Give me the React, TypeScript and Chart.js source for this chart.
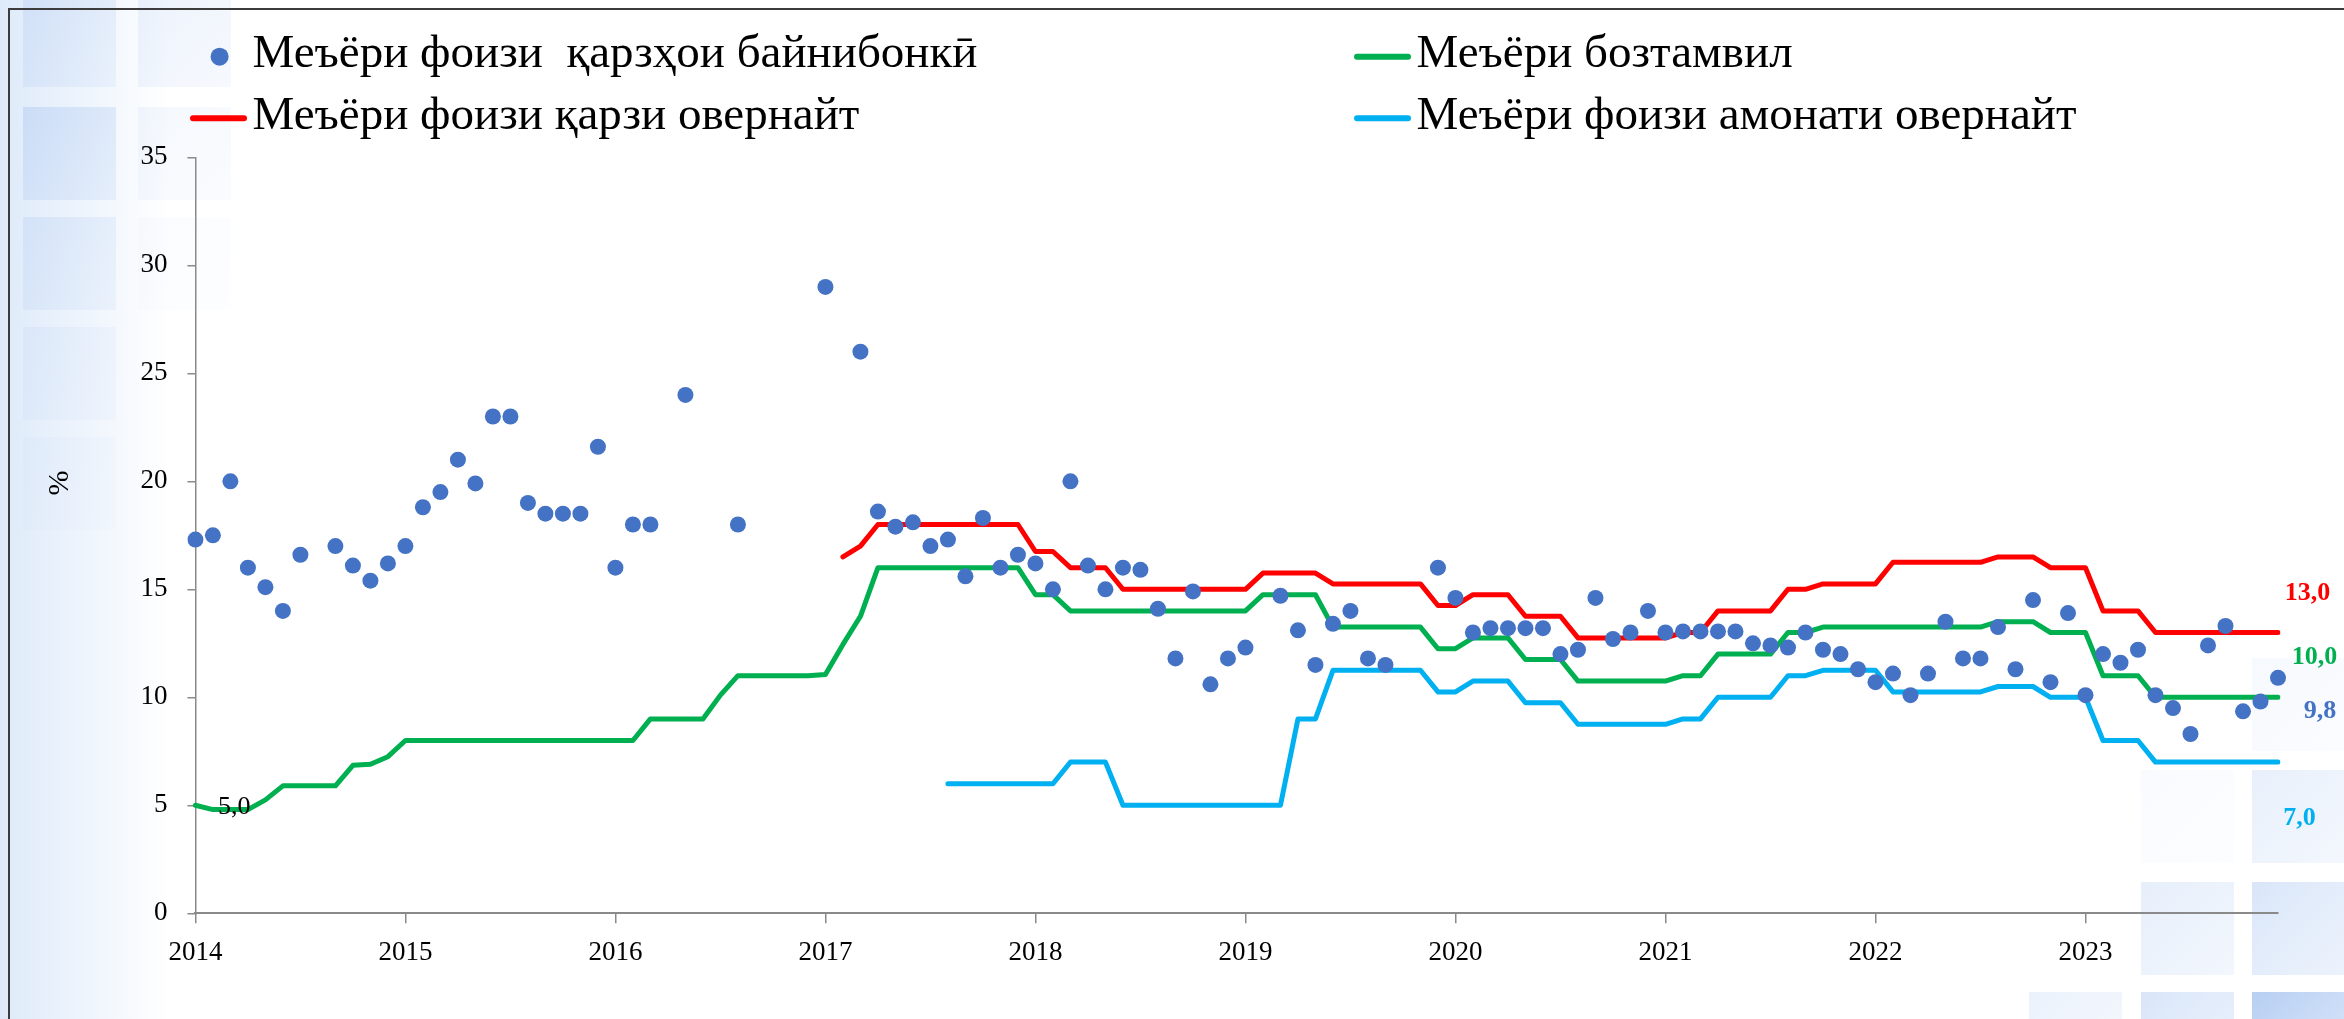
import React, { useEffect, useRef } from 'react';
import { Chart, registerables } from 'chart.js';

Chart.register(...registerables);

// ---------- data ----------
const YEARS = ['2014', '2015', '2016', '2017', '2018', '2019', '2020', '2021', '2022', '2023'];
const MONTH_NUMS = ['01', '02', '03', '04', '05', '06', '07', '08', '09', '10', '11', '12'];
const MONTHS = YEARS.flatMap((y) => MONTH_NUMS.map((m) => `${y}-${m}`));

const Y_MIN = 0;
const Y_MAX = 35;
const Y_STEP = 5;

const LEGEND_LABELS = [
  'Меъёри фоизи  қарзҳои байнибонкӣ',
  'Меъёри бозтамвил',
  'Меъёри фоизи қарзи овернайт',
  'Меъёри фоизи амонати овернайт',
];

// Interbank loan rate (dots), one row per year
const INTERBANK: (number | null)[] = [
  17.3, 17.5, 20.0, 16.0, 15.1, 14.0, 16.6, null, 17.0, 16.1, 15.4, 16.2,
  17.0, 18.8, 19.5, 21.0, 19.9, 23.0, 23.0, 19.0, 18.5, 18.5, 18.5, 21.6,
  16.0, 18.0, 18.0, null, 24.0, null, null, 18.0, null, null, null, null,
  29.0, null, 26.0, 18.6, 17.9, 18.1, 17.0, 17.3, 15.6, 18.3, 16.0, 16.6,
  16.2, 15.0, 20.0, 16.1, 15.0, 16.0, 15.9, 14.1, 11.8, 14.9, 10.6, 11.8,
  12.3, null, 14.7, 13.1, 11.5, 13.4, 14.0, 11.8, 11.5, null, null, 16.0,
  14.6, 13.0, 13.2, 13.2, 13.2, 13.2, 12.0, 12.2, 14.6, 12.7, 13.0, 14.0,
  13.0, 13.05, 13.05, 13.05, 13.05, 12.5, 12.4, 12.3, 13.0, 12.2, 12.0, 11.3,
  10.7, 11.1, 10.1, 11.1, 13.5, 11.8, 11.8, 13.25, 11.3, 14.5, 10.7, 13.9,
  10.1, 12.0, 11.6, 12.2, 10.1, 9.5, 8.3, 12.4, 13.3, 9.35, 9.8, 10.9,
];

// Refinancing rate (green)
const REFINANCING: (number | null)[] = [
  5.0, 4.8, 4.8, 4.8, 5.25, 5.9, 5.9, 5.9, 5.9, 6.85, 6.9, 7.25,
  8, 8, 8, 8, 8, 8, 8, 8, 8, 8, 8, 8,
  8, 8, 9, 9, 9, 9, 10.1, 11, 11, 11, 11, 11,
  11.05, 12.45, 13.75, 16, 16, 16, 16, 16, 16, 16, 16, 16,
  14.75, 14.75, 14, 14, 14, 14, 14, 14, 14, 14, 14, 14,
  14, 14.75, 14.75, 14.75, 14.75, 13.25, 13.25, 13.25, 13.25, 13.25, 13.25, 12.25,
  12.25, 12.75, 12.75, 12.75, 11.75, 11.75, 11.75, 10.75, 10.75, 10.75, 10.75, 10.75,
  10.75, 11, 11, 12, 12, 12, 12, 13, 13, 13.25, 13.25, 13.25,
  13.25, 13.25, 13.25, 13.25, 13.25, 13.25, 13.25, 13.5, 13.5, 13.5, 13, 13,
  13, 11, 11, 11, 10, 10, 10, 10, 10, 10, 10, 10,
];

// Overnight loan rate (red)
const OVERNIGHT_LOAN: (number | null)[] = [
  null, null, null, null, null, null, null, null, null, null, null, null,
  null, null, null, null, null, null, null, null, null, null, null, null,
  null, null, null, null, null, null, null, null, null, null, null, null,
  null, 16.5, 17.0, 18, 18, 18, 18, 18, 18, 18, 18, 18,
  16.75, 16.75, 16, 16, 16, 15, 15, 15, 15, 15, 15, 15,
  15, 15.75, 15.75, 15.75, 15.75, 15.25, 15.25, 15.25, 15.25, 15.25, 15.25, 14.25,
  14.25, 14.75, 14.75, 14.75, 13.75, 13.75, 13.75, 12.75, 12.75, 12.75, 12.75, 12.75,
  12.75, 13, 13, 14, 14, 14, 14, 15, 15, 15.25, 15.25, 15.25,
  15.25, 16.25, 16.25, 16.25, 16.25, 16.25, 16.25, 16.5, 16.5, 16.5, 16, 16,
  16, 14, 14, 14, 13, 13, 13, 13, 13, 13, 13, 13,
];

// Overnight deposit rate (cyan)
const OVERNIGHT_DEPOSIT: (number | null)[] = [
  null, null, null, null, null, null, null, null, null, null, null, null,
  null, null, null, null, null, null, null, null, null, null, null, null,
  null, null, null, null, null, null, null, null, null, null, null, null,
  null, null, null, null, null, null, null, 6, 6, 6, 6, 6,
  6, 6, 7, 7, 7, 5, 5, 5, 5, 5, 5, 5,
  5, 5, 5, 9, 9, 11.25, 11.25, 11.25, 11.25, 11.25, 11.25, 10.25,
  10.25, 10.75, 10.75, 10.75, 9.75, 9.75, 9.75, 8.75, 8.75, 8.75, 8.75, 8.75,
  8.75, 9, 9, 10, 10, 10, 10, 11, 11, 11.25, 11.25, 11.25,
  11.25, 10.25, 10.25, 10.25, 10.25, 10.25, 10.25, 10.5, 10.5, 10.5, 10, 10,
  10, 8, 8, 8, 7, 7, 7, 7, 7, 7, 7, 7,
];

// ---------- styles ----------
const FONT = "'Liberation Serif', 'Times New Roman', serif";
const BLUE = '#4472C4';
const GREEN = '#00B050';
const RED = '#FF0000';
const CYAN = '#00B0F0';
const AXIS = '#8a8a8a';

const W = 2344;
const H = 1019;
const PLOT_LEFT = 195.4;
const PLOT_RIGHT = 2278;
const PLOT_TOP = 157.3;
const PLOT_BOTTOM = 913.3;

// decorative background tiles: [x, y, alpha]
const TILES: [number, number, number][] = [
  [23, -6, 0.3], [23, 107, 0.4], [23, 217, 0.26], [23, 327, 0.14], [23, 437, 0.07],
  [138, -6, 0.2], [138, 107, 0.12], [138, 217, 0.05],
  [2252, 658, 0.1], [2141, 770, 0.07], [2252, 770, 0.26],
  [2141, 882, 0.28], [2252, 882, 0.42],
  [2029, 992, 0.22], [2141, 992, 0.42], [2252, 992, 0.8],
];
const TILE_SIZE = 93;

const fmt = (v: number) => v.toFixed(1).replace('.', ',');

const decorPlugin = {
  id: 'decor',
  beforeDraw(chart: any) {
    const { ctx } = chart;
    ctx.save();
    ctx.fillStyle = '#ffffff';
    ctx.fillRect(0, 0, W, H);
    const g = ctx.createLinearGradient(0, 0, 170, 0);
    g.addColorStop(0, 'rgba(200,220,246,0.6)');
    g.addColorStop(1, 'rgba(200,220,246,0)');
    ctx.fillStyle = g;
    ctx.fillRect(0, 0, 170, H);
    for (const [x, y, a] of TILES) {
      const tg = ctx.createLinearGradient(x, y, x + TILE_SIZE, y + TILE_SIZE);
      tg.addColorStop(0, `rgba(165,195,240,${a})`);
      tg.addColorStop(1, `rgba(190,212,245,${a * 0.7})`);
      ctx.fillStyle = tg;
      ctx.fillRect(x, y, TILE_SIZE, TILE_SIZE);
    }
    ctx.restore();
  },
  afterDraw(chart: any) {
    const { ctx, chartArea } = chart;
    const xs = chart.scales.x;
    const ys = chart.scales.y;
    const ds = chart.data.datasets;
    ctx.save();

    // frame
    ctx.strokeStyle = '#3c3c3c';
    ctx.lineWidth = 2;
    ctx.beginPath();
    ctx.moveTo(8, 9);
    ctx.lineTo(W, 9);
    ctx.moveTo(9, 8);
    ctx.lineTo(9, H);
    ctx.stroke();

    // legend
    ctx.font = `47px ${FONT}`;
    ctx.textBaseline = 'middle';
    ctx.textAlign = 'left';
    ctx.fillStyle = '#000';
    const rows = [56.7, 118.3];
    const cols = [191, 1355];
    const items = [
      { ds: 0, col: 0, row: 0 },
      { ds: 1, col: 1, row: 0 },
      { ds: 2, col: 0, row: 1 },
      { ds: 3, col: 1, row: 1 },
    ];
    for (const it of items) {
      const d = ds[it.ds];
      const mx = cols[it.col];
      const my = rows[it.row];
      if (it.ds === 0) {
        ctx.fillStyle = d.pointBackgroundColor;
        ctx.beginPath();
        ctx.arc(mx + 28.6, my, 9, 0, Math.PI * 2);
        ctx.fill();
      } else {
        ctx.strokeStyle = d.borderColor;
        ctx.lineWidth = 6;
        ctx.lineCap = 'round';
        ctx.beginPath();
        ctx.moveTo(mx + 2, my);
        ctx.lineTo(mx + 53, my);
        ctx.stroke();
      }
      ctx.fillStyle = '#000';
      ctx.fillText(d.label, mx + 61.5, my - 2);
    }

    // first-point label of refinancing rate
    ctx.font = `26px ${FONT}`;
    ctx.fillStyle = '#000';
    const v0 = REFINANCING[0] as number;
    ctx.fillText(fmt(v0), xs.getPixelForValue(0) + 22.5, ys.getPixelForValue(v0) + 2);

    // end labels
    ctx.font = `bold 26px ${FONT}`;
    const last = MONTHS.length - 1;
    const ends = [
      { v: OVERNIGHT_LOAN[last] as number, color: RED, dx: 6.7, dy: -39 },
      { v: REFINANCING[last] as number, color: GREEN, dx: 13.8, dy: -40 },
      { v: INTERBANK[last - 1] as number, color: BLUE, dx: 25.7, dy: 9.5 },
      { v: OVERNIGHT_DEPOSIT[last] as number, color: CYAN, dx: 5.3, dy: 56 },
    ];
    for (const e of ends) {
      ctx.fillStyle = e.color;
      ctx.fillText(fmt(e.v), chartArea.right + e.dx, ys.getPixelForValue(e.v) + e.dy);
    }

    // y-axis unit
    ctx.save();
    ctx.translate(60, 483);
    ctx.rotate(-Math.PI / 2);
    ctx.font = `30px ${FONT}`;
    ctx.textAlign = 'center';
    ctx.fillStyle = '#000';
    ctx.fillText('%', 0, 0);
    ctx.restore();

    ctx.restore();
  },
};

export default function App() {
  const canvasRef = useRef<HTMLCanvasElement | null>(null);

  useEffect(() => {
    const canvas = canvasRef.current;
    if (!canvas) return;
    const lineCommon = {
      pointRadius: 0,
      pointHoverRadius: 0,
      borderWidth: 5,
      tension: 0,
      spanGaps: false,
      borderCapStyle: 'round',
      borderJoinStyle: 'round',
      fill: false,
    };
    const chart = new Chart(canvas, {
      type: 'line',
      data: {
        labels: MONTHS,
        datasets: [
          {
            label: LEGEND_LABELS[0],
            data: INTERBANK,
            showLine: false,
            pointRadius: 8,
            pointHoverRadius: 8,
            pointBorderWidth: 0,
            pointBackgroundColor: BLUE,
            borderColor: BLUE,
            backgroundColor: BLUE,
          },
          { label: LEGEND_LABELS[1], data: REFINANCING, borderColor: GREEN, backgroundColor: GREEN, ...lineCommon },
          { label: LEGEND_LABELS[2], data: OVERNIGHT_LOAN, borderColor: RED, backgroundColor: RED, ...lineCommon },
          { label: LEGEND_LABELS[3], data: OVERNIGHT_DEPOSIT, borderColor: CYAN, backgroundColor: CYAN, ...lineCommon },
        ],
      } as any,
      options: {
        responsive: false,
        animation: false,
        events: [],
        layout: { padding: { left: 0, top: PLOT_TOP, right: W - PLOT_RIGHT, bottom: 0 } },
        plugins: { legend: { display: false }, tooltip: { enabled: false }, title: { display: false } },
        scales: {
          x: {
            type: 'category',
            offset: false,
            grid: { display: true, drawOnChartArea: false, drawTicks: true, tickLength: 10, color: AXIS, lineWidth: 1.5 },
            border: { display: true, color: AXIS, width: 2 },
            ticks: {
              autoSkip: false,
              maxRotation: 0,
              minRotation: 0,
              padding: 13,
              color: '#000',
              font: { family: FONT, size: 27 },
              callback: (value: any) => MONTHS[value as number].slice(0, 4),
            },
            afterBuildTicks: (axis: any) => {
              axis.ticks = axis.ticks.filter((t: any) => t.value % 12 === 0);
            },
            afterFit: (axis: any) => {
              axis.height = H - PLOT_BOTTOM;
            },
          },
          y: {
            min: Y_MIN,
            max: Y_MAX,
            ticks: { stepSize: Y_STEP, padding: 20, color: '#000', font: { family: FONT, size: 27 } },
            grid: { display: true, drawOnChartArea: false, drawTicks: true, tickLength: 8, color: AXIS, lineWidth: 1.5 },
            border: { display: true, color: AXIS, width: 1.5 },
            afterFit: (axis: any) => {
              axis.width = PLOT_LEFT;
            },
          },
        },
      } as any,
      plugins: [decorPlugin],
    });
    return () => chart.destroy();
  }, []);

  return (
    <div style={{ position: 'absolute', left: 0, top: 0, width: W, height: H, overflow: 'hidden' }}>
      <canvas ref={canvasRef} width={W} height={H} style={{ display: 'block', width: W, height: H }} />
    </div>
  );
}
